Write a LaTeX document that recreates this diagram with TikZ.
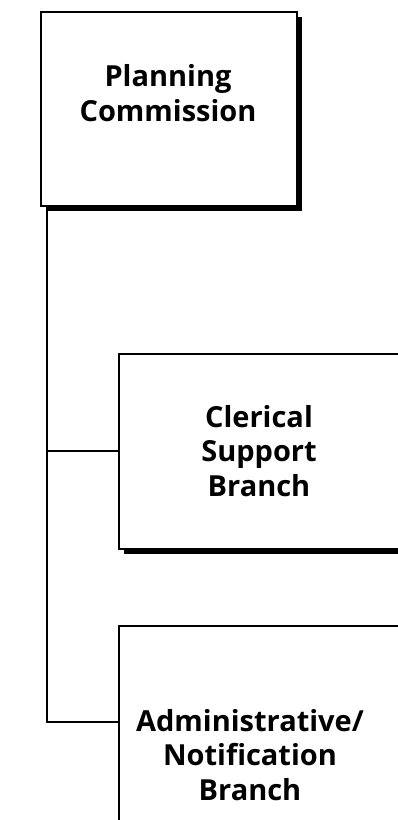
\documentclass[tikz,border=0pt]{standalone}
\usepackage{fontspec}
\setmainfont{Open Sans}
\usetikzlibrary{shadows}
\begin{document}
\begin{tikzpicture}[x=1pt,y=-1pt,
  orgbox/.style={draw, line width=1.6pt, fill=white, inner sep=0pt, anchor=north west,
    drop shadow={shadow xshift=5pt, shadow yshift=-5pt, opacity=1, fill=black}},
  orgtext/.style={align=center, font=\bfseries\fontsize{29}{34.5}\selectfont, inner sep=0pt},
  conn/.style={line width=1.6pt}]
\useasboundingbox (0,0) rectangle (398,820);
\node[orgbox, minimum width=256pt, minimum height=194pt] (pc) at (40,11) {};
\node[orgbox, minimum width=284pt, minimum height=195pt] (cs) at (118,353) {};
\node[orgbox, minimum width=284pt, minimum height=200pt] (an) at (118,625) {};
\node[orgtext] (pct) at (168,93) {Planning\\Commission};
\node[orgtext] (cst) at (259,451) {Clerical\\Support\\Branch};
\node[orgtext] (ant) at (250,755) {Administrative/\\Notification\\Branch};
\coordinate (top) at (47,0);
\coordinate (j1) at (47,451);
\coordinate (j2) at (47,722);
\draw[conn] (top |- pc.south) -- (j2) -- (j2 -| an.west);
\draw[conn] (j1) -- (j1 -| cs.west);
\end{tikzpicture}
\end{document}
